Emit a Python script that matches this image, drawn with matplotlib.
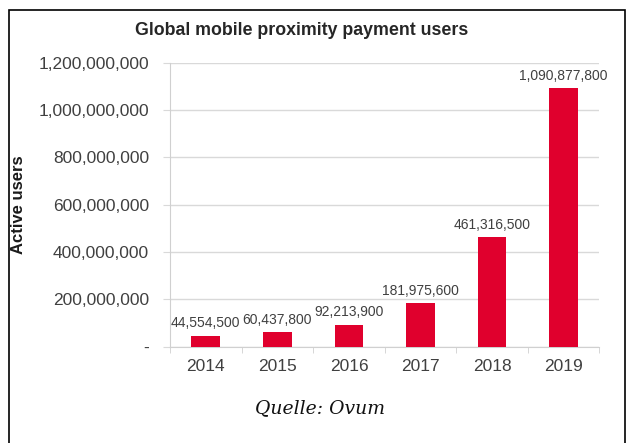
import numpy as np
import matplotlib.pyplot as plt
from matplotlib.patches import Rectangle

# data
years = ["2014", "2015", "2016", "2017", "2018", "2019"]
users = [44554500, 60437800, 92213900, 181975600, 461316500, 1090877800]
yticks = [0, 200000000, 400000000, 600000000, 800000000, 1000000000, 1200000000]

plt.rcParams["font.family"] = ["Liberation Sans", "DejaVu Sans"]

fig = plt.figure(figsize=(6.28, 4.43), dpi=100)
ax = fig.add_axes([0.2707, 0.2178, 0.6839, 0.6407])

x = np.arange(len(years))
ax.bar(x, users, width=0.4, color="#e0002d", zorder=3)

for xi, v in zip(x, users):
    ax.annotate(f"{v:,}", (xi, v), xytext=(0, 4), textcoords="offset points",
                ha="center", va="bottom", fontsize=10, color="#404040")

ax.set_xlim(-0.5, len(years) - 0.5)
ax.set_ylim(0, 1200000000)
ax.set_yticks(yticks)
ax.set_yticklabels(["-"] + [f"{t:,}" for t in yticks[1:]])
ax.set_xticks(x)
ax.set_xticklabels(years)
ax.tick_params(axis="x", length=0, pad=9, labelsize=12.5, labelcolor="#404040")
ax.tick_params(axis="y", length=5, color="#d9d9d9", pad=10, labelsize=12.5,
               labelcolor="#404040")
# small ticks between categories
ax.set_xticks(np.arange(-0.5, len(years)), minor=True)
ax.tick_params(axis="x", which="minor", length=4, color="#d0d0d0")

ax.grid(axis="y", color="#d9d9d9", linewidth=1, zorder=0)
for s in ["top", "right"]:
    ax.spines[s].set_visible(False)
ax.spines["left"].set_color("#d0d0d0")
ax.spines["bottom"].set_color("#d0d0d0")

ax.set_ylabel("Active users", fontsize=12, fontweight="bold", color="#1a1a1a")
ax.yaxis.set_label_coords(-0.335, 0.5)

fig.text(0.48, 0.932, "Global mobile proximity payment users", ha="center",
         va="center", fontsize=12.8, fontweight="bold", color="#262626")
fig.text(0.51, 0.078, "Quelle: Ovum", ha="center", va="center", fontsize=13.5,
         style="italic", family="DejaVu Serif", color="#111111")

# frame round the image, open at the bottom
fig.patches.append(Rectangle((0.014, -0.05), 0.982, 1.027, transform=fig.transFigure,
                             fill=False, edgecolor="black", linewidth=1.2))

fig.savefig("out.png", dpi=100)
